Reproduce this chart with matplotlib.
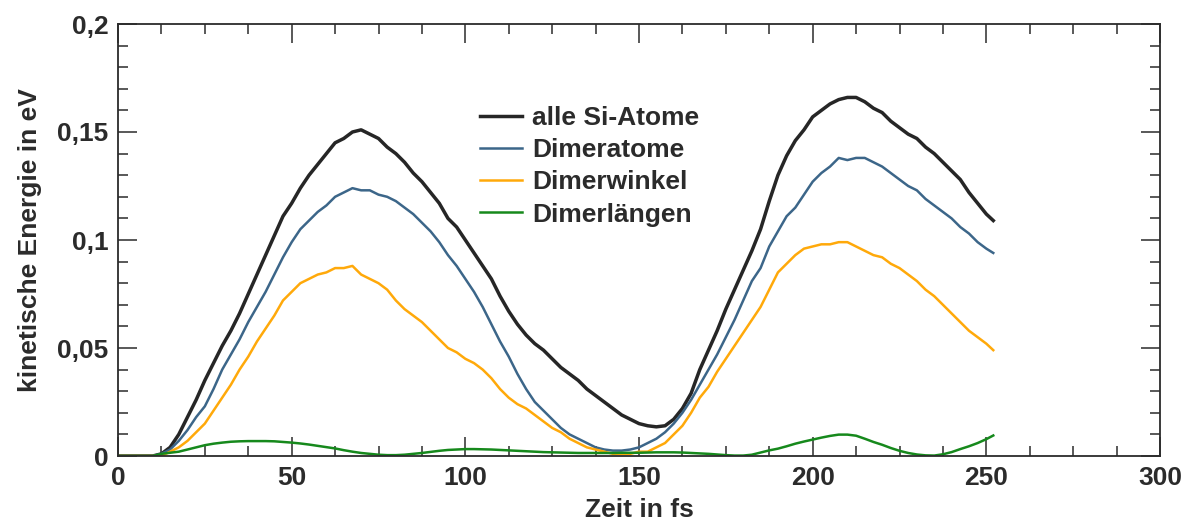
import numpy as np
import matplotlib.pyplot as plt
from matplotlib.ticker import MultipleLocator, FuncFormatter

plt.rcParams['font.family'] = ['Liberation Sans', 'DejaVu Sans']
plt.rcParams['font.weight'] = 'bold'

# Zeitachse in fs
t = [0, 2.5, 5, 7.5, 10, 12.5, 15, 17.5, 20, 22.5, 25, 27.5, 30, 32.5, 35, 37.5, 40, 42.5, 45, 47.5,
     50, 52.5, 55, 57.5, 60, 62.5, 65, 67.5, 70, 72.5, 75, 77.5, 80, 82.5, 85, 87.5, 90, 92.5, 95, 97.5,
     100, 102.5, 105, 107.5, 110, 112.5, 115, 117.5, 120, 122.5, 125, 127.5, 130, 132.5, 135, 137.5, 140, 142.5, 145, 147.5,
     150, 152.5, 155, 157.5, 160, 162.5, 165, 167.5, 170, 172.5, 175, 177.5, 180, 182.5, 185, 187.5, 190, 192.5, 195, 197.5,
     200, 202.5, 205, 207.5, 210, 212.5, 215, 217.5, 220, 222.5, 225, 227.5, 230, 232.5, 235, 237.5, 240, 242.5, 245, 247.5,
     250, 252]

# kinetische Energie in eV
alle_si = [0, 0, 0, 0, 0, 0.001, 0.004, 0.010, 0.018, 0.026, 0.035, 0.043, 0.051, 0.058, 0.066, 0.075, 0.084, 0.093, 0.102, 0.111,
           0.117, 0.124, 0.130, 0.135, 0.140, 0.145, 0.147, 0.150, 0.151, 0.149, 0.147, 0.143, 0.140, 0.136, 0.131, 0.127, 0.122, 0.117, 0.110, 0.106,
           0.100, 0.094, 0.088, 0.082, 0.074, 0.067, 0.061, 0.056, 0.052, 0.049, 0.045, 0.041, 0.038, 0.035, 0.031, 0.028, 0.025, 0.022, 0.019, 0.017,
           0.015, 0.014, 0.0135, 0.014, 0.017, 0.022, 0.029, 0.040, 0.049, 0.058, 0.068, 0.077, 0.086, 0.095, 0.105, 0.118, 0.130, 0.139, 0.146, 0.151,
           0.157, 0.160, 0.163, 0.165, 0.166, 0.166, 0.164, 0.161, 0.159, 0.155, 0.152, 0.149, 0.147, 0.143, 0.140, 0.136, 0.132, 0.128, 0.122, 0.117,
           0.112, 0.109]

dimeratome = [0, 0, 0, 0, 0, 0.001, 0.003, 0.007, 0.012, 0.018, 0.023, 0.031, 0.040, 0.047, 0.054, 0.062, 0.069, 0.076, 0.084, 0.092,
              0.099, 0.105, 0.109, 0.113, 0.116, 0.120, 0.122, 0.124, 0.123, 0.123, 0.121, 0.120, 0.118, 0.115, 0.112, 0.108, 0.104, 0.099, 0.093, 0.088,
              0.082, 0.076, 0.069, 0.061, 0.053, 0.046, 0.038, 0.031, 0.025, 0.021, 0.017, 0.013, 0.010, 0.008, 0.006, 0.004, 0.003, 0.0025, 0.0025, 0.003,
              0.004, 0.006, 0.008, 0.011, 0.015, 0.020, 0.026, 0.033, 0.040, 0.047, 0.055, 0.063, 0.072, 0.081, 0.087, 0.097, 0.104, 0.111, 0.115, 0.121,
              0.127, 0.131, 0.134, 0.138, 0.137, 0.138, 0.138, 0.136, 0.134, 0.131, 0.128, 0.125, 0.123, 0.119, 0.116, 0.113, 0.110, 0.106, 0.103, 0.099,
              0.096, 0.094]

dimerwinkel = [0, 0, 0, 0, 0, 0, 0.002, 0.004, 0.007, 0.011, 0.015, 0.021, 0.027, 0.033, 0.040, 0.046, 0.053, 0.059, 0.065, 0.072,
               0.076, 0.080, 0.082, 0.084, 0.085, 0.087, 0.087, 0.088, 0.084, 0.082, 0.080, 0.077, 0.072, 0.068, 0.065, 0.062, 0.058, 0.054, 0.050, 0.048,
               0.045, 0.043, 0.040, 0.036, 0.031, 0.027, 0.024, 0.022, 0.019, 0.016, 0.013, 0.011, 0.008, 0.006, 0.004, 0.003, 0.002, 0.001, 0.001, 0.001,
               0.002, 0.002, 0.004, 0.006, 0.010, 0.014, 0.020, 0.027, 0.032, 0.039, 0.045, 0.051, 0.057, 0.063, 0.069, 0.077, 0.085, 0.089, 0.093, 0.096,
               0.097, 0.098, 0.098, 0.099, 0.099, 0.097, 0.095, 0.093, 0.092, 0.089, 0.087, 0.084, 0.081, 0.077, 0.074, 0.070, 0.066, 0.062, 0.058, 0.055,
               0.052, 0.049]

dimerlaengen = [0, 0, 0, 0, 0, 0.001, 0.0015, 0.002, 0.003, 0.004, 0.005, 0.0057, 0.0062, 0.0066, 0.0068, 0.0069, 0.0069, 0.0069, 0.0068, 0.0065,
                0.0062, 0.0058, 0.0053, 0.0047, 0.0041, 0.0035, 0.0027, 0.002, 0.0014, 0.001, 0.0006, 0.0004, 0.0004, 0.0006, 0.001, 0.0014, 0.0019, 0.0024, 0.0028, 0.003,
                0.0032, 0.0032, 0.0031, 0.003, 0.0028, 0.0026, 0.0024, 0.0022, 0.002, 0.0018, 0.0017, 0.0016, 0.0015, 0.0014, 0.0014, 0.0014, 0.0014, 0.0014, 0.0015, 0.0015,
                0.0015, 0.0016, 0.0017, 0.0017, 0.0017, 0.0016, 0.0014, 0.0012, 0.001, 0.0007, 0.0004, 0.0002, 0.0002, 0.0006, 0.0016, 0.0026, 0.0034, 0.0045, 0.0057, 0.0067,
                0.0076, 0.0085, 0.0093, 0.0099, 0.0099, 0.0094, 0.008, 0.0065, 0.0052, 0.0037, 0.0024, 0.0014, 0.0007, 0.0003, 0.0002, 0.0008, 0.0018, 0.0032, 0.0045, 0.006,
                0.0078, 0.0095]

labels = ["alle Si-Atome", "Dimeratome", "Dimerwinkel", "Dimerlängen"]
colors = ["#262626", "#3c6689", "#ffa90a", "#16891c"]
widths = [2.5, 1.8, 1.8, 1.8]
textcol = "#2b2b2b"
fs = 19

fig = plt.figure(figsize=(11.86, 5.24), dpi=100)
ax = fig.add_axes([118/1186, 1 - 456/524, (1160-118)/1186, (456-24)/524])

for y, lab, c, w in zip([alle_si, dimeratome, dimerwinkel, dimerlaengen], labels, colors, widths):
    ax.plot(t, y, color=c, lw=w, label=lab)

ax.set_xlim(0, 300)
ax.set_ylim(0, 0.2)
ax.xaxis.set_major_locator(MultipleLocator(50))
ax.xaxis.set_minor_locator(MultipleLocator(12.5))
ax.yaxis.set_major_locator(MultipleLocator(0.05))
ax.yaxis.set_minor_locator(MultipleLocator(0.01))
ax.yaxis.set_major_formatter(FuncFormatter(lambda v, p: ('%g' % round(v, 3)).replace('.', ',')))

for s in ax.spines.values():
    s.set_linewidth(1.3)
    s.set_color(textcol)
ax.tick_params(which='both', direction='in', top=True, right=True, color=textcol, width=1.1)
ax.tick_params(which='major', length=14)
ax.tick_params(which='minor', length=7)
ax.tick_params(axis='x', which='major', pad=7, labelsize=fs, labelcolor=textcol)
ax.tick_params(axis='y', which='major', pad=7, labelsize=fs, labelcolor=textcol)

ax.set_xlabel("Zeit in fs", fontsize=fs, fontweight='bold', color=textcol, labelpad=6)
ax.set_ylabel("kinetische Energie in eV", fontsize=fs, fontweight='bold', color=textcol, labelpad=11)

leg = ax.legend(loc='upper left', bbox_to_anchor=(0.347, 0.81), frameon=False, fontsize=fs,
                handlelength=1.6, handletextpad=0.38, labelspacing=0.31, borderpad=0, borderaxespad=0)
for txt in leg.get_texts():
    txt.set_color(textcol)

fig.savefig("out.png", dpi=100)
